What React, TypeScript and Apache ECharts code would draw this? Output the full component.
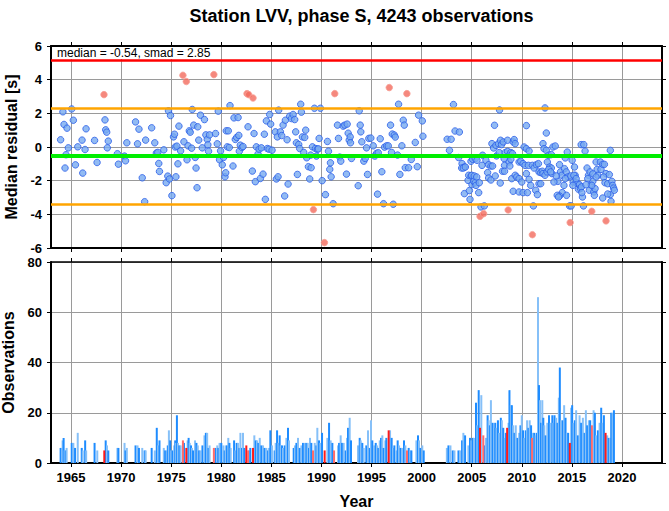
import React, { useEffect, useRef } from "react";
import * as echarts from "echarts";

const TITLE = "Station LVV, phase S, 4243 observations";
const MEDIAN = -0.54;
const SMAD = 2.85;
const FONT = "'Liberation Sans', Arial, Helvetica, sans-serif";

const tickYears = [1965, 1970, 1975, 1980, 1985, 1990, 1995, 2000, 2005, 2010, 2015, 2020];

// [year, median residual (s)] — events inside the band
const bluePoints: number[][] = [
  [1963.96, 0.43], [1964.19, 2.09], [1964.3, 1.34], [1964.4, -1.25], [1964.5, -0.46], [1964.6, 1.12], [1964.73, -0.05],
  [1965.07, 2.26], [1965.23, 1.59], [1965.44, -1.06], [1965.67, 0.01], [1966.1, 0.41], [1966.17, -1.55], [1966.4, -0.15],
  [1966.5, 1.08], [1967.35, 0.39], [1967.6, -0.92], [1968.39, 1.61], [1968.46, 1.02], [1968.56, 0.88], [1968.62, -0.05],
  [1968.72, 0.35], [1969.63, -0.4], [1969.73, -1.02], [1970.34, -0.54], [1970.44, -0.82], [1970.57, 0.25], [1971.44, 1.49],
  [1971.64, 0.19], [1971.78, 1.06], [1972.11, -1.83], [1972.35, -3.25], [1972.45, 0.41], [1973.05, 1.14], [1973.36, 0.25],
  [1973.52, -0.36], [1973.66, -0.32], [1973.76, -0.98], [1973.83, -1.45], [1974.26, -0.17], [1974.5, -2.12], [1974.66, -1.73],
  [1974.73, 2.15], [1974.83, -1.9], [1974.93, 1.87], [1975.07, -2.89], [1975.23, 0.6], [1975.33, 0.76], [1975.4, 0.0],
  [1975.47, -1.77], [1975.57, 0.05], [1975.67, -1.0], [1975.77, 1.24], [1975.94, -0.23], [1976.27, 0.31], [1976.58, -0.76],
  [1976.68, 0.07], [1976.81, 0.96], [1976.9, 0.88], [1977.04, -0.07], [1977.1, 2.23], [1977.25, 1.3], [1977.4, -0.62],
  [1977.48, -1.25], [1977.58, -2.42], [1977.65, 1.2], [1977.75, 0.41], [1977.92, 1.89], [1978.1, -0.05], [1978.32, 1.63],
  [1978.46, 0.72], [1978.6, 0.45], [1978.66, 0.13], [1978.73, -0.25], [1978.83, 0.72], [1979.43, 0.8], [1979.6, 0.19],
  [1979.7, 2.13], [1979.83, -0.76], [1979.93, -0.23], [1980.1, -1.06], [1980.23, -0.62], [1980.37, -1.77], [1980.44, -1.53],
  [1980.5, 0.96], [1980.6, 0.01], [1980.7, 0.96], [1980.8, -0.03], [1980.87, 2.46], [1981.17, -1.13], [1981.27, 1.73],
  [1981.4, 0.45], [1981.54, 0.57], [1981.68, 1.75], [1981.75, 0.69], [1981.8, -0.25],
  [1981.9, 0.11], [1982.07, -0.03], [1982.17, 0.03], [1982.67, 1.2], [1983.1, -1.43], [1983.27, 0.8], [1983.4, -2.06],
  [1983.5, 0.01], [1983.67, -0.42], [1983.77, -0.13], [1983.9, -1.87], [1984.0, -0.05], [1984.17, -1.61], [1984.3, 0.76],
  [1984.4, -3.11], [1984.5, 1.55], [1984.6, -0.09], [1984.77, -0.13], [1984.83, 1.93], [1984.93, 1.36], [1985.07, -0.19],
  [1985.4, 0.9], [1985.5, -1.9], [1985.6, 0.6], [1985.67, -1.77], [1985.73, 2.19], [1985.9, 0.9], [1986.03, 0.68],
  [1986.17, 1.3], [1986.33, -2.91], [1986.4, 1.59], [1986.57, 0.43], [1986.67, -2.2], [1986.83, 1.83], [1987.0, 1.69],
  [1987.17, 1.93], [1987.33, 1.63], [1987.43, 0.9], [1987.5, 0.25], [1987.6, -1.63], [1987.73, 0.15], [1987.83, -0.09],
  [1987.93, 2.54], [1988.0, 2.07], [1988.1, 0.6], [1988.23, -0.32], [1988.33, 0.57], [1988.43, 1.0], [1988.53, -0.64],
  [1988.7, -1.17], [1988.83, -1.9], [1988.93, -0.48], [1988.97, -1.23], [1989.1, 0.01], [1989.3, 2.3], [1989.4, -0.09],
  [1989.5, -0.54], [1989.6, -0.13], [1989.7, -0.11], [1989.77, 0.51], [1989.9, 2.3], [1990.07, -2.0], [1990.4, -2.83],
  [1990.6, 0.33], [1990.7, -0.25], [1990.83, -1.33], [1990.9, -0.94], [1990.97, -1.77], [1991.17, -3.37], [1991.6, 1.3],
  [1991.7, 0.51], [1991.83, -0.6], [1991.93, -0.84], [1992.17, 1.24], [1992.33, 1.3], [1992.5, -1.61], [1992.57, 1.36],
  [1992.67, 0.82], [1992.77, 0.41], [1992.87, 0.6], [1992.9, 0.25], [1993.0, -0.68], [1993.67, -2.3], [1993.77, 2.15],
  [1993.87, 1.3], [1993.93, 0.9], [1994.03, 0.31], [1994.23, -0.84], [1994.37, -0.68], [1994.5, -0.05], [1994.6, -1.63],
  [1994.73, 0.51], [1994.93, 0.53], [1995.17, 0.07], [1995.33, -0.54], [1995.5, -0.38], [1995.6, -2.8], [1995.67, -0.34],
  [1995.87, 0.49], [1996.03, -1.47], [1996.2, -3.37], [1996.3, -0.01], [1996.5, 0.07], [1996.67, 0.07], [1996.9, 1.3],
  [1997.0, -0.32], [1997.07, 0.77], [1997.17, -3.4], [1997.27, 0.71], [1997.37, 0.59], [1997.6, -0.48], [1997.7, 2.54],
  [1997.83, -1.63], [1998.03, 0.07], [1998.17, 1.59], [1998.27, 1.3], [1998.37, -1.23], [1998.7, -1.23], [1998.97, -0.74],
  [1999.37, 0.27], [1999.57, -1.17], [1999.7, 1.89], [2000.07, 1.55], [2000.13, 0.64],
  [2002.55, 0.46], [2002.95, 0.46], [2002.78, -0.2], [2003.18, 2.52], [2003.34, 0.95], [2003.77, 0.89], [2003.7, -0.63],
  [2004.04, -0.99], [2004.27, -1.19], [2004.0, -1.25], [2004.17, -1.25], [2004.37, -1.19], [2004.64, -1.98], [2004.7, -1.68],
  [2004.27, -2.77], [2004.77, -2.59], [2004.83, -3.11], [2004.93, -0.85], [2004.93, -1.72], [2005.0, -1.68], [2005.03, -2.24],
  [2005.1, -0.73], [2005.2, -2.04], [2005.26, -1.72], [2005.36, -0.69], [2005.36, -2.12], [2005.43, -2.28], [2005.5, -1.78],
  [2005.53, -0.79], [2005.7, -2.71], [2005.76, -2.12], [2005.93, -3.56], [2006.26, -3.5], [2006.03, -1.09], [2006.09, -0.49],
  [2006.42, -0.79], [2006.59, -1.52], [2006.69, -1.05], [2006.69, -1.84], [2006.92, -1.13], [2006.92, -1.96], [2007.02, 0.2],
  [2007.09, -1.13], [2007.19, -0.06], [2007.28, 1.29], [2007.35, -1.72], [2007.42, 0.1], [2007.48, -0.53], [2007.68, 0.2],
  [2007.75, -0.33], [2007.78, 2.2], [2007.85, -2.14], [2007.88, 0.4], [2007.98, 0.14], [2008.08, -1.44], [2008.15, 0.3],
  [2008.24, -0.69], [2008.28, -1.09], [2008.28, -1.44], [2008.34, -0.33], [2008.58, 0.4], [2008.58, -0.26], [2008.74, -0.49],
  [2008.74, -0.89], [2008.81, -1.13], [2008.91, -0.33], [2008.91, -0.73], [2009.0, -1.88], [2009.07, -0.39], [2009.14, 0.3],
  [2009.14, -2.63], [2009.24, 0.44], [2009.34, 0.2], [2009.34, -1.68], [2009.5, -1.78], [2009.73, -0.89], [2009.73, -1.88],
  [2009.73, -2.67], [2009.9, -0.85], [2010.0, -2.08], [2010.13, -0.99], [2010.13, -2.71], [2010.23, 0.0], [2010.33, -1.09],
  [2010.46, 1.27], [2010.46, -0.1], [2010.46, -1.58], [2010.56, -2.71], [2010.66, -1.09], [2010.73, -0.24], [2010.73, -1.92],
  [2010.89, -2.28], [2011.06, -1.09], [2011.16, -3.5], [2011.23, -1.25], [2011.39, -2.57], [2011.46, -1.05], [2011.56, -2.83],
  [2011.66, -0.99], [2011.72, -1.48], [2011.72, -2.18], [2011.89, -1.52], [2011.89, -2.18], [2012.05, -1.44], [2012.12, 0.2],
  [2012.12, -1.58], [2012.22, -0.1], [2012.32, 2.32], [2012.32, -1.68], [2012.45, 0.83], [2012.45, -0.2], [2012.52, -1.48],
  [2012.55, -0.89],
  [2012.68, -0.49], [2012.95, -0.45], [2012.78, -1.19], [2012.95, -1.25], [2013.01, -1.58], [2012.68, -1.33], [2012.88, -1.48],
  [2013.11, 0.0], [2013.34, 0.06], [2013.77, -1.05], [2013.87, -1.48], [2014.0, -1.68], [2014.04, -2.71], [2013.77, -2.91],
  [2013.54, -2.87], [2013.6, -2.04], [2013.21, -2.08], [2013.44, -1.72], [2013.67, -2.97], [2014.54, -0.3], [2014.34, -0.65],
  [2014.27, -1.29], [2014.44, -1.48], [2014.6, -1.78], [2014.21, -2.28], [2014.47, -2.87], [2014.34, -1.88], [2015.03, -0.79],
  [2015.26, -1.19], [2015.33, -1.68], [2015.13, -2.08], [2015.43, -2.12], [2015.6, -2.18], [2015.76, -2.24], [2015.66, -2.51],
  [2015.86, -2.47], [2015.96, -2.37], [2016.06, -2.97], [2016.0, -2.71], [2015.1, -2.28], [2014.77, -3.5], [2014.93, -3.5],
  [2016.16, -3.5], [2014.9, -1.72], [2015.2, -1.68], [2015.43, -1.88], [2015.93, 0.14], [2016.19, 0.14], [2016.32, -0.24],
  [2016.52, -1.25], [2016.66, -1.68], [2016.75, -2.57], [2016.92, -2.24], [2017.09, -2.04], [2017.19, -2.67], [2017.25, -2.87],
  [2017.32, -2.47], [2017.42, -0.89], [2017.52, -1.33], [2017.58, -1.68], [2017.85, -0.89], [2017.91, -1.33], [2018.08, -1.03],
  [2018.25, -1.03], [2018.41, -1.58], [2018.17, -1.78], [2018.31, -2.12], [2018.58, -2.18], [2018.74, -1.64], [2018.84, -2.83],
  [2019.0, -2.04], [2019.07, -2.28], [2019.17, -2.44], [2019.24, -2.57], [2018.08, -3.03], [2018.91, -3.23], [2018.58, -2.79],
  [2018.84, -0.2], [2016.59, -1.88], [2016.82, -1.48], [2017.09, -1.6], [2017.42, -1.78], [2016.99, -2.28], [2016.42, -2.24],
];

// [year, median residual (s)] — outliers
const redPoints: number[][] = [
  [1968.29, 3.11], [1976.17, 4.26], [1976.51, 3.89], [1979.26, 4.3], [1982.57, 3.17], [1982.74, 3.11], [1983.17, 2.91],
  [1989.2, -3.72], [1990.3, -5.68], [1991.33, 3.17], [1996.77, 3.53], [1998.53, 3.17], [2005.83, -4.12], [2006.19, -3.96],
  [2008.64, -3.74], [2011.06, -5.21], [2014.83, -4.49], [2016.99, -3.82], [2018.41, -4.39],
];

// [year, observations]
const barData: number[][] = [
  [1963.96, 6], [1964.16, 9], [1964.26, 10], [1964.36, 5], [1964.46, 5], [1964.56, 6], [1965.07, 8], [1965.23, 8], [1965.4, 6],
  [1965.67, 12], [1966.07, 6], [1966.17, 5], [1966.41, 9], [1966.51, 5], [1967.35, 8], [1967.62, 5], [1968.46, 9], [1968.59, 7],
  [1968.72, 5], [1969.63, 6], [1969.73, 6], [1970.34, 8], [1970.44, 5], [1970.57, 6], [1971.44, 7], [1971.64, 7], [1971.78, 6],
  [1972.11, 6], [1972.35, 5], [1972.45, 5], [1973.05, 6], [1973.36, 5], [1973.56, 14], [1973.69, 7], [1973.83, 9], [1974.26, 6],
  [1974.4, 5], [1974.56, 5], [1974.66, 7], [1974.77, 13], [1974.9, 9], [1975.0, 5], [1975.13, 5], [1975.3, 7], [1975.4, 9],
  [1975.47, 8], [1975.57, 19], [1975.67, 8], [1975.81, 7], [1975.94, 7], [1976.28, 8], [1976.64, 9], [1976.74, 10], [1976.85, 8],
  [1976.98, 7], [1977.08, 6], [1977.18, 5], [1977.38, 9], [1977.52, 8], [1977.65, 7], [1977.79, 5], [1977.92, 5], [1978.12, 7],
  [1978.32, 11], [1978.46, 12], [1978.59, 12], [1978.72, 6], [1978.83, 7], [1979.43, 6], [1979.6, 7], [1979.7, 6], [1979.83, 8],
  [1980.0, 8], [1980.2, 7], [1980.34, 5], [1980.44, 7], [1980.57, 7], [1980.7, 10], [1980.81, 8], [1980.94, 6], [1981.28, 9],
  [1981.41, 5], [1981.54, 8], [1981.68, 8], [1981.81, 6],
  [1981.91, 12], [1982.07, 6], [1982.17, 12], [1982.3, 6], [1982.77, 5], [1982.9, 6], [1983.3, 11], [1983.44, 9], [1983.57, 9],
  [1983.7, 8], [1983.84, 10], [1984.0, 7], [1984.17, 7], [1984.33, 6], [1984.5, 6], [1984.67, 5], [1984.77, 6], [1984.9, 13],
  [1985.07, 7], [1985.33, 5], [1985.43, 8], [1985.57, 13], [1985.7, 8], [1985.83, 11], [1985.93, 7], [1986.06, 7], [1986.16, 6],
  [1986.33, 7], [1986.5, 10], [1986.66, 14], [1986.76, 9], [1987.23, 6], [1987.36, 7], [1987.5, 8], [1987.66, 10], [1987.83, 6],
  [1988.0, 7], [1988.16, 8], [1988.33, 8], [1988.49, 8], [1988.63, 8], [1988.76, 6], [1988.86, 10], [1988.99, 8], [1989.33, 8],
  [1989.49, 7], [1989.59, 14], [1989.76, 9], [1989.89, 8], [1990.06, 12], [1990.59, 10], [1990.76, 16], [1990.92, 9],
  [1991.09, 8], [1991.66, 7], [1991.76, 8], [1991.92, 11], [1992.05, 8], [1992.22, 8], [1992.42, 5], [1992.55, 10],
  [1992.65, 14], [1992.82, 18], [1992.95, 9], [1993.65, 7], [1993.82, 10], [1993.92, 9], [1994.08, 8], [1994.22, 6],
  [1994.48, 7], [1994.65, 13], [1994.82, 6], [1994.95, 17], [1995.08, 9], [1995.25, 7], [1995.42, 8], [1995.55, 7],
  [1995.68, 6], [1995.82, 9], [1995.95, 10], [1996.08, 11], [1996.21, 6], [1996.38, 9], [1996.48, 10], [1996.85, 13],
  [1997.01, 10], [1997.15, 6], [1997.28, 7], [1997.48, 5], [1997.61, 9], [1997.75, 7], [1997.91, 6], [1998.04, 6],
  [1998.24, 9], [1998.38, 7], [1998.71, 6], [1998.88, 5], [1998.98, 5], [1999.48, 9], [1999.64, 11], [1999.74, 9],
  [1999.88, 6], [2000.07, 7], [2000.21, 5],
  [2002.52, 6], [2002.68, 7], [2002.88, 7], [2003.11, 5], [2003.28, 5], [2003.68, 5], [2003.84, 5], [2004.04, 9], [2004.17, 12],
  [2004.34, 11], [2004.67, 7], [2004.83, 10], [2004.97, 9], [2005.1, 10], [2005.23, 10], [2005.43, 24], [2005.56, 15],
  [2005.7, 29], [2005.96, 27], [2006.29, 7], [2006.42, 10], [2006.59, 19], [2006.69, 17], [2006.82, 15], [2006.92, 25],
  [2007.09, 16], [2007.25, 14], [2007.35, 16], [2007.48, 14], [2007.62, 17], [2007.75, 12], [2007.91, 18], [2008.01, 17],
  [2008.15, 14], [2008.31, 10], [2008.41, 12], [2008.68, 16], [2008.77, 29], [2008.91, 23], [2009.01, 23], [2009.14, 15],
  [2009.27, 12], [2009.4, 15], [2009.57, 10], [2009.74, 12], [2009.87, 15], [2010.0, 19], [2010.13, 13], [2010.26, 10],
  [2010.4, 13], [2010.53, 17], [2010.66, 14], [2010.79, 17], [2010.93, 15], [2011.13, 12], [2011.26, 12], [2011.39, 11],
  [2011.52, 12], [2011.62, 66], [2011.72, 31], [2011.82, 25], [2011.92, 16], [2012.05, 25], [2012.15, 18], [2012.25, 15],
  [2012.38, 11], [2012.55, 16], [2012.72, 19], [2012.88, 16], [2013.05, 19], [2013.15, 16],
  [2013.27, 19], [2013.43, 18], [2013.57, 16], [2013.7, 26], [2013.8, 38], [2013.93, 17], [2014.1, 17], [2014.23, 23],
  [2014.37, 18], [2014.5, 12], [2014.63, 12], [2014.93, 22], [2015.03, 23], [2015.17, 16], [2015.3, 17], [2015.43, 21],
  [2015.6, 11], [2015.77, 19], [2015.93, 16], [2016.1, 18], [2016.27, 12], [2016.4, 21], [2016.53, 15], [2016.7, 17],
  [2016.83, 17], [2017.17, 21], [2017.3, 20], [2017.43, 11], [2017.6, 13], [2017.77, 16], [2017.93, 22], [2018.07, 16],
  [2018.2, 19], [2018.53, 11], [2018.67, 10], [2018.8, 10], [2018.93, 20], [2019.07, 20], [2019.2, 21],
];

// [year, observations] — outlier events
const redBarData: number[][] = [
  [1968.32, 5], [1976.17, 9], [1976.51, 6], [1979.26, 6], [1982.5, 7], [1982.67, 5], [1983.17, 6], [1989.16, 5],
  [1990.32, 5], [1991.26, 5], [1996.71, 13], [1998.54, 5], [2005.83, 14], [2006.16, 11], [2008.54, 14], [2011.03, 10],
  [2014.8, 8], [2017.0, 15], [2018.37, 12],
];

const App: React.FC = () => {
  const ref = useRef<HTMLDivElement>(null);

  useEffect(() => {
    if (!ref.current) return;
    const chart = echarts.init(ref.current, undefined, { renderer: "svg" });

    const frame = { show: true, onZero: false, lineStyle: { color: "#000", width: 2 } };
    const gridLine = { show: true, lineStyle: { color: "#9a9a9a", width: 1 } };
    const tick = { show: true, length: 4, lineStyle: { color: "#000", width: 1 } };
    const tickLabel = { color: "#000", fontSize: 13, fontWeight: "bold" as const, fontFamily: FONT };
    const axisName = { color: "#000", fontSize: 16, fontWeight: "bold" as const, fontFamily: FONT };

    const xBase = { type: "value" as const, min: 1963, max: 2024 };
    const xTick = { ...tick, customValues: tickYears };

    const bars = [
      ...barData.map((d, i) => ({ value: d, itemStyle: { color: i % 2 === 0 ? "#1e8cff" : "#86c0f8" } })),
      ...redBarData.map((d, i) => ({ value: d, itemStyle: { color: i % 2 === 0 ? "#ff1a1a" : "#ff6b6b" } })),
    ];

    const lineOf = (y: number, color: string, width: number) => ({
      yAxis: y,
      lineStyle: { color, width, type: "solid" as const },
    });

    chart.setOption({
      animation: false,
      textStyle: { fontFamily: FONT },
      title: {
        text: TITLE,
        left: 356.5,
        textAlign: "center",
        top: 2,
        textStyle: { fontSize: 18, fontWeight: "bold", color: "#000", fontFamily: FONT },
      },
      grid: [
        { left: 51, right: 7, top: 46, height: 202, outerBoundsMode: "none", containLabel: false },
        { left: 51, right: 7, top: 262, height: 201, outerBoundsMode: "none", containLabel: false },
      ],
      xAxis: [
        { ...xBase, gridIndex: 0, position: "bottom", axisLine: frame, axisTick: xTick, axisLabel: { show: false }, splitLine: { ...gridLine } },
        { ...xBase, gridIndex: 0, position: "top", axisLine: frame, axisTick: xTick, axisLabel: { show: false }, splitLine: { show: false } },
        {
          ...xBase, gridIndex: 1, position: "bottom", axisLine: frame, axisTick: xTick,
          axisLabel: { ...tickLabel, margin: 8, customValues: tickYears, formatter: (v: number) => String(Math.round(v)) },
          splitLine: { ...gridLine },
          name: "Year", nameLocation: "middle", nameGap: 30, nameTextStyle: axisName,
        },
        { ...xBase, gridIndex: 1, position: "top", axisLine: { ...frame, lineStyle: { color: "#000", width: 1.5 } }, axisTick: xTick, axisLabel: { show: false }, splitLine: { show: false } },
      ],
      yAxis: [
        {
          type: "value", gridIndex: 0, position: "left", min: -6, max: 6, interval: 2,
          axisLine: frame, axisTick: tick, axisLabel: { ...tickLabel, margin: 9 }, splitLine: gridLine,
          name: "Median residual [s]", nameLocation: "middle", nameGap: 32, nameTextStyle: axisName,
        },
        {
          type: "value", gridIndex: 0, position: "right", min: -6, max: 6, interval: 2,
          axisLine: frame, axisTick: tick, axisLabel: { show: false }, splitLine: { show: false },
        },
        {
          type: "value", gridIndex: 1, position: "left", min: 0, max: 80, interval: 20,
          axisLine: frame, axisTick: tick, axisLabel: { ...tickLabel, margin: 9 }, splitLine: gridLine,
          name: "Observations", nameLocation: "middle", nameGap: 32, nameTextStyle: axisName,
        },
        {
          type: "value", gridIndex: 1, position: "right", min: 0, max: 80, interval: 20,
          axisLine: frame, axisTick: tick, axisLabel: { show: false }, splitLine: { show: false },
        },
      ],
      series: [
        {
          type: "line",
          xAxisIndex: 0,
          yAxisIndex: 0,
          data: [],
          silent: true,
          z: 1,
          markLine: {
            silent: true,
            symbol: ["none", "none"],
            label: { show: false },
            data: [
              lineOf(MEDIAN + 2 * SMAD, "#ff0000", 2.5),
              lineOf(MEDIAN + SMAD, "#ffa500", 2.5),
              lineOf(MEDIAN - SMAD, "#ffa500", 2.5),
              lineOf(MEDIAN, "#00ee00", 4),
            ],
          },
        },
        {
          type: "scatter",
          xAxisIndex: 0,
          yAxisIndex: 0,
          z: 3,
          symbol: "circle",
          symbolSize: 6.5,
          data: bluePoints,
          itemStyle: { color: "#77aaf0", borderColor: "#2a5ee8", borderWidth: 1 },
        },
        {
          type: "scatter",
          xAxisIndex: 0,
          yAxisIndex: 0,
          z: 3,
          symbol: "circle",
          symbolSize: 6.5,
          data: redPoints,
          itemStyle: { color: "#f26a5c", borderColor: "#f79c92", borderWidth: 1 },
        },
        {
          type: "bar",
          xAxisIndex: 2,
          yAxisIndex: 2,
          barWidth: 2,
          data: bars,
          z: 3,
        },
      ],
      graphic: [
        { type: "rect", left: 53, top: 47, shape: { width: 162, height: 12 }, style: { fill: "#fff" }, z: 10 },
        {
          type: "text", left: 57, top: 47, z: 11,
          style: { text: `median = ${MEDIAN.toFixed(2)}, smad = ${SMAD.toFixed(2)}`, fill: "#000", fontSize: 12, fontFamily: FONT },
        },
      ],
    });

    return () => chart.dispose();
  }, []);

  return (
    <div
      ref={ref}
      style={{ position: "fixed", left: 0, top: 0, width: 669, height: 511, background: "#fff" }}
    />
  );
};

export default App;
